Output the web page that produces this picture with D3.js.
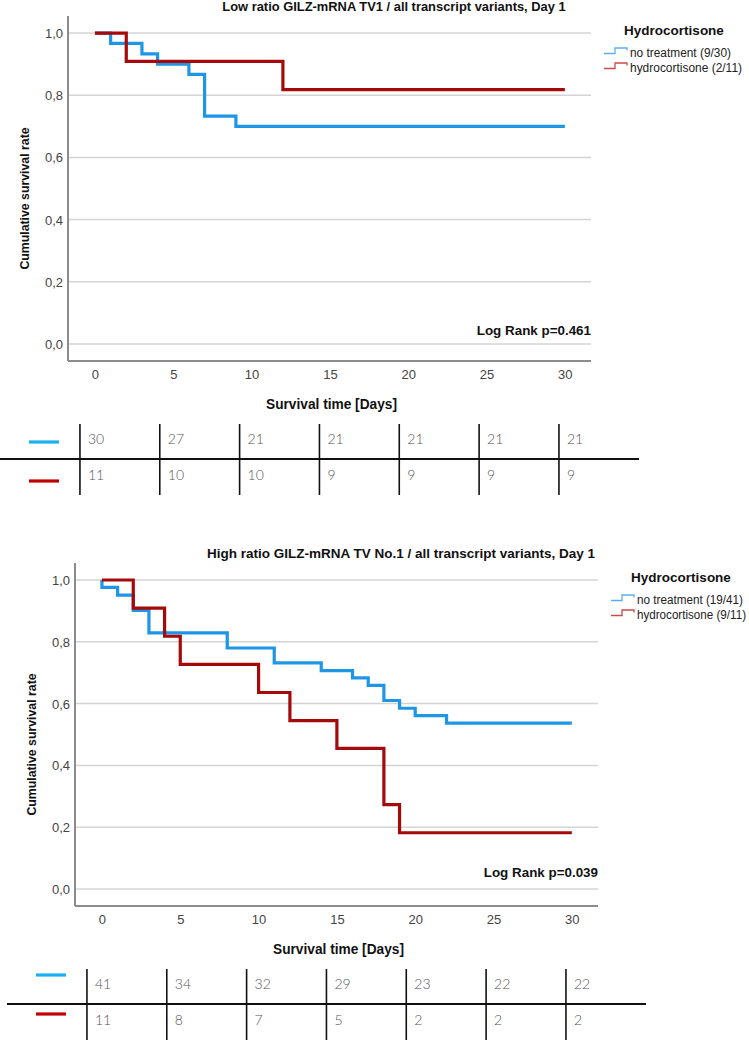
<!DOCTYPE html>
<html>
<head>
<meta charset="utf-8">
<script src="https://cdn.jsdelivr.net/npm/d3@7"></script>
<style>
  html, body { margin: 0; padding: 0; background: #fff; }
  svg { display: block; }
</style>
</head>
<body>
<svg id="chart" width="749" height="1040"></svg>
<script>
// ---------- DATA ----------
const xTicks = [0, 5, 10, 15, 20, 25, 30];
const yTicks = [0, 0.2, 0.4, 0.6, 0.8, 1.0];
const yTickLabels = ["0,0", "0,2", "0,4", "0,6", "0,8", "1,0"];
const groupNames = ["no treatment", "hydrocortisone"];

// Chart 1: Low ratio
const lowTitle = "Low ratio GILZ-mRNA TV1 / all transcript variants, Day 1";
const lowLegend = ["no treatment (9/30)", "hydrocortisone (2/11)"];
const lowNoTreatTime = [0, 1, 3, 4, 6, 7, 9, 30];
const lowNoTreatSurv = [1.0, 0.967, 0.933, 0.900, 0.867, 0.733, 0.700, 0.700];
const lowHydroTime = [0, 2, 12, 30];
const lowHydroSurv = [1.0, 0.909, 0.818, 0.818];
const lowLogRank = "Log Rank p=0.461";
const lowRiskNoTreat = [30, 27, 21, 21, 21, 21, 21];
const lowRiskHydro = [11, 10, 10, 9, 9, 9, 9];

// Chart 2: High ratio
const highTitle = "High ratio GILZ-mRNA TV No.1 / all transcript variants, Day 1";
const highLegend = ["no treatment (19/41)", "hydrocortisone (9/11)"];
const highNoTreatTime = [0, 0, 1, 2, 3, 8, 11, 14, 16, 17, 18, 19, 20, 22, 30];
const highNoTreatSurv = [1.0, 0.976, 0.951, 0.902, 0.829, 0.780, 0.732, 0.707, 0.683, 0.659, 0.610, 0.585, 0.561, 0.537, 0.537];
const highHydroTime = [0, 2, 4, 5, 10, 12, 15, 18, 19, 30];
const highHydroSurv = [1.0, 0.909, 0.818, 0.727, 0.636, 0.545, 0.455, 0.273, 0.182, 0.182];
const highLogRank = "Log Rank p=0.039";
const highRiskNoTreat = [41, 34, 32, 29, 23, 22, 22];
const highRiskHydro = [11, 8, 7, 5, 2, 2, 2];

// ---------- STYLE ----------
const curveColors = ["#1e96e6", "#a50a0a"];
const legendColors = ["#5ab0ee", "#cc4a4a"];
const tableColors = ["#1ab0ef", "#c00000"];
const sans = "'Liberation Sans', Arial, Helvetica, sans-serif";
const thin = "Lato, 'Century Gothic', 'Open Sans', sans-serif";

const svg = d3.select("#chart");

function drawChart(cfg) {
  const g = svg.append("g");
  const L = cfg.left, R = cfg.right, T = cfg.top, B = cfg.bottom;
  const x = d3.scaleLinear().domain([-1.72, 31.67]).range([L, R]);
  const y = d3.scaleLinear().domain([-0.055, 1.055]).range([B, T]);

  // gridlines
  g.append("g").selectAll("line").data(yTicks).join("line")
    .attr("x1", L).attr("x2", R)
    .attr("y1", d => y(d)).attr("y2", d => y(d))
    .attr("stroke", "#d4d4d4").attr("stroke-width", 1.5);

  // axes (lines only, SPSS style)
  const xAxis = d3.axisBottom(x).tickValues(xTicks).tickSize(0).tickPadding(0);
  const xa = g.append("g").attr("transform", `translate(0,${B})`).call(xAxis);
  xa.select(".domain").attr("stroke", "#8c8c8c").attr("stroke-width", 2).attr("d", `M${L},0H${R}`);
  xa.selectAll("text").attr("y", 18).attr("dy", null)
    .attr("font-family", sans).attr("font-size", 13).attr("fill", "#444");

  const yAxis = d3.axisLeft(y).tickValues(yTicks).tickSize(0).tickPadding(0)
    .tickFormat((d, i) => yTickLabels[i]);
  const ya = g.append("g").attr("transform", `translate(${L},0)`).call(yAxis);
  ya.select(".domain").attr("stroke", "#8c8c8c").attr("stroke-width", 2).attr("d", `M0,${T}V${B}`);
  ya.selectAll("text").attr("x", -5).attr("dy", "0.35em")
    .attr("font-family", sans).attr("font-size", 13).attr("fill", "#444");

  // curves
  const line = d3.line().x(d => x(d[0])).y(d => y(d[1])).curve(d3.curveStepAfter);
  cfg.series.forEach((s, i) => {
    const pts = s.time.map((t, k) => [t, s.surv[k]]);
    g.append("path").attr("d", line(pts)).attr("fill", "none")
      .attr("stroke", curveColors[i]).attr("stroke-width", 3.2)
      .attr("stroke-linejoin", "miter").attr("stroke-linecap", "butt");
  });

  // title
  g.append("text").attr("x", L + 326).attr("y", T - 5).attr("text-anchor", "middle")
    .attr("font-family", sans).attr("font-weight", "bold").attr("font-size", cfg.titleSize)
    .attr("fill", "#111").text(cfg.title);

  // y label
  g.append("text")
    .attr("transform", `translate(${L - 39},${(T + B) / 2 + 10}) rotate(-90)`)
    .attr("text-anchor", "middle").attr("font-family", sans).attr("font-weight", "bold")
    .attr("font-size", 12.3).attr("fill", "#111").text("Cumulative survival rate");

  // log rank
  g.append("text").attr("x", R).attr("y", y(0) + cfg.logRankDy).attr("text-anchor", "end")
    .attr("font-family", sans).attr("font-weight", "bold").attr("font-size", 13.4)
    .attr("fill", "#111").text(cfg.logRank);

  // legend
  g.append("text").attr("x", L + 606).attr("y", T + 19).attr("text-anchor", "middle")
    .attr("font-family", sans).attr("font-weight", "bold").attr("font-size", 13.5)
    .attr("fill", "#111").text("Hydrocortisone");
  cfg.legend.forEach((lab, i) => {
    const ly = T + 36 + i * 15;
    const lx = L + 536;
    g.append("path").attr("d", `M${lx},${ly + 1.5}H${lx + 11}V${ly - 4}H${lx + 23}V${ly - 1.5}`)
      .attr("fill", "none").attr("stroke", legendColors[i]).attr("stroke-width", 1.3);
    g.append("text").attr("x", L + 562).attr("y", ly + 4.5)
      .attr("font-family", sans).attr("font-size", 12).attr("fill", "#222")
      .attr("textLength", cfg.legendLen[i]).attr("lengthAdjust", "spacingAndGlyphs")
      .text(lab);
  });

  // x label (condensed look)
  g.append("text").attr("x", (L + R) / 2 + 2).attr("y", B + 48).attr("text-anchor", "middle")
    .attr("font-family", sans).attr("font-weight", "bold").attr("font-size", 14)
    .attr("textLength", 131).attr("lengthAdjust", "spacingAndGlyphs")
    .attr("fill", "#111").text("Survival time [Days]");

  // risk table
  const tx = d3.scaleLinear().domain([0, 30]).range([x(0) - 15, x(0) - 15 + 479]);
  const tg = g.append("g");
  tg.append("line").attr("x1", L - 68).attr("x2", L + 571)
    .attr("y1", B + 98).attr("y2", B + 98).attr("stroke", "#111").attr("stroke-width", 2);
  tg.selectAll("line.v").data(xTicks).join("line").attr("class", "v")
    .attr("x1", d => tx(d)).attr("x2", d => tx(d))
    .attr("y1", B + 63).attr("y2", B + 134).attr("stroke", "#111").attr("stroke-width", 1.6);
  [cfg.riskA, cfg.riskB].forEach((arr, r) => {
    const ry = B + (r === 0 ? 78 : 114);
    tg.selectAll(null).data(arr).join("text")
      .attr("x", (d, i) => tx(xTicks[i]) + 8).attr("y", ry + 5)
      .attr("font-family", thin).attr("font-weight", 300).attr("font-size", 14)
      .attr("fill", "#555").text(d => d);
    const by = B + cfg.barDy[r];
    tg.append("line").attr("x1", L - 39).attr("x2", L - 9).attr("y1", by).attr("y2", by)
      .attr("stroke", tableColors[r]).attr("stroke-width", 3.2);
  });
}

drawChart({
  left: 68, right: 591, top: 16, bottom: 361, titleSize: 12.9,
  title: lowTitle, legend: lowLegend, legendLen: [101, 112], logRank: lowLogRank, logRankDy: -9,
  series: [{ time: lowNoTreatTime, surv: lowNoTreatSurv }, { time: lowHydroTime, surv: lowHydroSurv }],
  riskA: lowRiskNoTreat, riskB: lowRiskHydro, barDy: [81, 120]
});
drawChart({
  left: 75, right: 598, top: 563, bottom: 906, titleSize: 13.5,
  title: highTitle, legend: highLegend, legendLen: [106, 109], logRank: highLogRank, logRankDy: -12,
  series: [{ time: highNoTreatTime, surv: highNoTreatSurv }, { time: highHydroTime, surv: highHydroSurv }],
  riskA: highRiskNoTreat, riskB: highRiskHydro, barDy: [69, 108]
});
</script>
</body>
</html>
